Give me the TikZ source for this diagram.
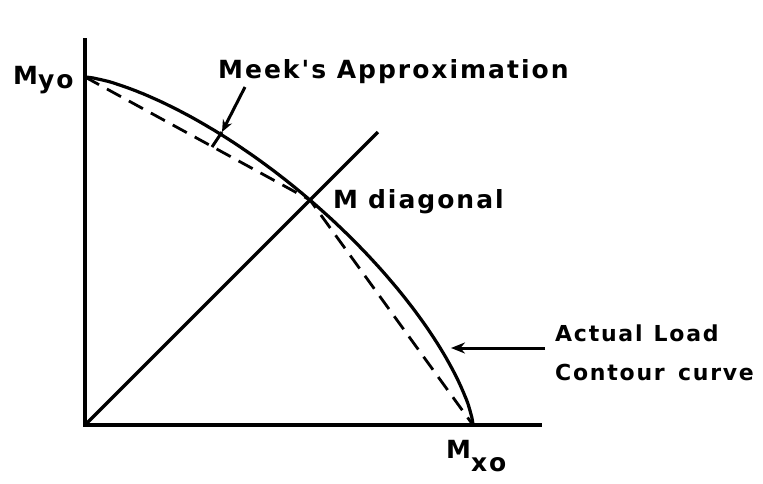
\documentclass[tikz,border=0pt]{standalone}
\usepackage{fontspec}
\setmainfont{DejaVu Sans}
\newfontfamily\labfont[LetterSpace=8]{DejaVu Sans}
\usetikzlibrary{arrows.meta}
\begin{document}
\begin{tikzpicture}[x=1pt,y=-1pt,
  axis/.style={line width=3.4pt},
  curvestyle/.style={line width=3.2pt},
  approx/.style={line width=2.8pt, dash pattern=on 16pt off 9pt},
  lbl/.style={font=\labfont\bfseries\fontsize{25}{28}\selectfont, inner sep=0pt, anchor=west},
  sublbl/.style={font=\labfont\bfseries\fontsize{22}{26}\selectfont, inner sep=0pt, anchor=west},
  pointer/.style={line width=3pt}]
\useasboundingbox (0,0) rectangle (763,483);
% key points
\coordinate (O) at (85,425);
\coordinate (Myo) at (85,77);
\coordinate (Mxo) at (473,425);
\coordinate (M) at (310,200);
\coordinate (Ytop) at (85,38);
\coordinate (Xend) at (542,425);
\coordinate (Dtop) at (378,132);
% axes
\draw[axis] (Ytop) -- (O) -- (Xend);
% diagonal
\draw[curvestyle] (O) -- (Dtop);
% actual load contour
\draw[curvestyle] (Myo) -- plot[domain=89.99:0.01, samples=120, variable=\t]
  ({85+388*(cos(\t))^1.41}, {425-348*(sin(\t))^1.41}) -- (Mxo);
% Meek's approximation
\draw[approx] (Myo) -- (M) -- (Mxo);
% labels
\node[lbl] (myo) at (13,80) {M\raisebox{-0.3ex}{yo}};
\node[lbl] (mxo) at (446,456) {M\raisebox{-1.0ex}{xo}};
\node[lbl] (meek) at (218,72) {Meek's Approximation};
\node[lbl] (mdiag) at (333,202) {M\hspace{0.4em}diagonal};
\node[sublbl] (actual) at (555,333) {Actual\hspace{0.5em}Load};
\node[sublbl] (contour) at (555,372) {Contour\hspace{0.6em}curve};
% pointers
\coordinate (meekA) at (245,87);
\coordinate (meekB) at (222,132);
\coordinate (meekC) at (212,147);
\draw[pointer,-{Stealth[length=12pt,width=10pt]}] (meekA) -- (meekB);
\draw[pointer] (meekB) -- (meekC);
\coordinate (actA) at (545,348);
\coordinate (actB) at (451,348);
\draw[pointer,-{Stealth[length=14pt,width=11pt]}] (actA) -- (actB);
\end{tikzpicture}
\end{document}
